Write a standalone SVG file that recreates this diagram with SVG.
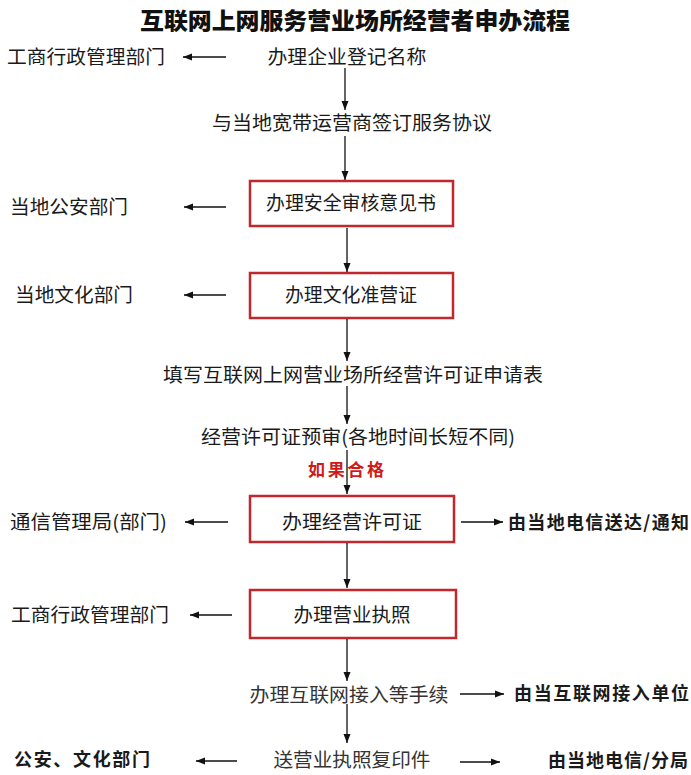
<svg xmlns="http://www.w3.org/2000/svg" width="691" height="775" viewBox="0 0 691 775">
<defs>
<marker id="ah" markerUnits="userSpaceOnUse" markerWidth="10" markerHeight="8" refX="9" refY="4" orient="auto">
<path d="M0,0.5 L9,4 L0,7.5 Z" fill="#111"/>
</marker>
<style>
text{font-family:"Noto Sans CJK SC","Noto Sans",sans-serif;fill:#1a1a1a;font-size:19px}
.t{font-size:23px;font-weight:900;fill:#111;text-anchor:middle}
.c{text-anchor:middle}
.b{font-weight:700;font-size:18px}
.r{fill:#d11a1a;font-weight:700;font-size:17px}
.g{fill:#333}
.box{fill:#fff;stroke:#c1272d;stroke-width:2.5}
.ln{stroke:#111;stroke-width:1.3;fill:none;marker-end:url(#ah)}
.pl{stroke:#111;stroke-width:1.3;fill:none}
</style>
</defs>
<rect width="691" height="775" fill="#fff"/>
<text id="title" class="t" x="355" y="29" textLength="430" lengthAdjust="spacingAndGlyphs">互联网上网服务营业场所经营者申办流程</text>

<g id="n1"><text class="c" x="347" y="64" textLength="159" lengthAdjust="spacingAndGlyphs">办理企业登记名称</text></g>
<g id="d1"><text x="7" y="64" textLength="158" lengthAdjust="spacingAndGlyphs">工商行政管理部门</text></g>
<g id="n2"><text class="c" x="352" y="130" textLength="280" lengthAdjust="spacingAndGlyphs">与当地宽带运营商签订服务协议</text></g>
<g id="n3"><rect class="box" x="250" y="181" width="203" height="45"/><text class="c" x="351" y="210" textLength="170" lengthAdjust="spacingAndGlyphs">办理安全审核意见书</text></g>
<g id="d3"><text x="10" y="214" textLength="118" lengthAdjust="spacingAndGlyphs">当地公安部门</text></g>
<g id="n4"><rect class="box" x="250" y="273" width="203" height="45"/><text class="c" x="351" y="302" textLength="132" lengthAdjust="spacingAndGlyphs">办理文化准营证</text></g>
<g id="d4"><text x="15" y="302" textLength="118" lengthAdjust="spacingAndGlyphs">当地文化部门</text></g>
<g id="n5"><text class="c" x="353" y="382" textLength="380" lengthAdjust="spacingAndGlyphs">填写互联网上网营业场所经营许可证申请表</text></g>
<g id="n6"><text class="c" x="358" y="444" textLength="314" lengthAdjust="spacingAndGlyphs">经营许可证预审(各地时间长短不同)</text></g>
<g id="cond"><text class="r" x="308" y="476" textLength="76" lengthAdjust="spacing">如果合格</text></g>
<g id="n7"><rect class="box" x="250" y="496" width="204" height="46"/><text class="c" x="352" y="529" textLength="140" lengthAdjust="spacingAndGlyphs">办理经营许可证</text></g>
<g id="d7"><text x="10" y="529" textLength="157" lengthAdjust="spacingAndGlyphs">通信管理局(部门)</text></g>
<g id="r7"><text class="b" x="508" y="529" textLength="181" lengthAdjust="spacing">由当地电信送达/通知</text></g>
<g id="n8"><rect class="box" x="250" y="590" width="206" height="48"/><text class="c" x="352" y="622" textLength="117" lengthAdjust="spacingAndGlyphs">办理营业执照</text></g>
<g id="d8"><text x="11" y="622" textLength="158" lengthAdjust="spacingAndGlyphs">工商行政管理部门</text></g>
<g id="n9"><text class="c g" x="349" y="702" textLength="199" lengthAdjust="spacingAndGlyphs">办理互联网接入等手续</text></g>
<g id="r9"><text class="b" x="514" y="700" textLength="175" lengthAdjust="spacing">由当互联网接入单位</text></g>
<g id="n10"><text class="c g" x="352" y="767" textLength="157" lengthAdjust="spacingAndGlyphs">送营业执照复印件</text></g>
<g id="d10"><text class="b" x="14" y="766" textLength="136" lengthAdjust="spacing">公安、文化部门</text></g>
<g id="r10"><text class="b" x="548" y="767" textLength="140" lengthAdjust="spacing">由当地电信/分局</text></g>

<g id="connectors">
<line class="ln" x1="226" y1="57" x2="183" y2="57"/>
<line class="ln" x1="345" y1="68" x2="345" y2="110"/>
<line class="ln" x1="345" y1="136" x2="345" y2="180"/>
<line class="ln" x1="226" y1="207" x2="184" y2="207"/>
<line class="ln" x1="347" y1="228" x2="347" y2="272"/>
<line class="ln" x1="226" y1="295" x2="184" y2="295"/>
<line class="ln" x1="347" y1="319" x2="347" y2="361"/>
<line class="ln" x1="347" y1="386" x2="347" y2="424"/>
<line class="ln" x1="347" y1="450" x2="347" y2="494"/>
<line class="ln" x1="228" y1="522" x2="185" y2="522"/>
<line class="ln" x1="461" y1="522" x2="503" y2="522"/>
<line class="ln" x1="347" y1="543" x2="347" y2="588"/>
<line class="ln" x1="232" y1="615" x2="190" y2="615"/>
<line class="ln" x1="347" y1="639" x2="347" y2="681"/>
<line class="ln" x1="460" y1="694" x2="504" y2="694"/>
<line class="ln" x1="347" y1="704" x2="347" y2="743"/>
<line class="ln" x1="237" y1="761" x2="196" y2="761"/>
<line class="ln" x1="460" y1="762" x2="500" y2="762"/>
</g>
</svg>
